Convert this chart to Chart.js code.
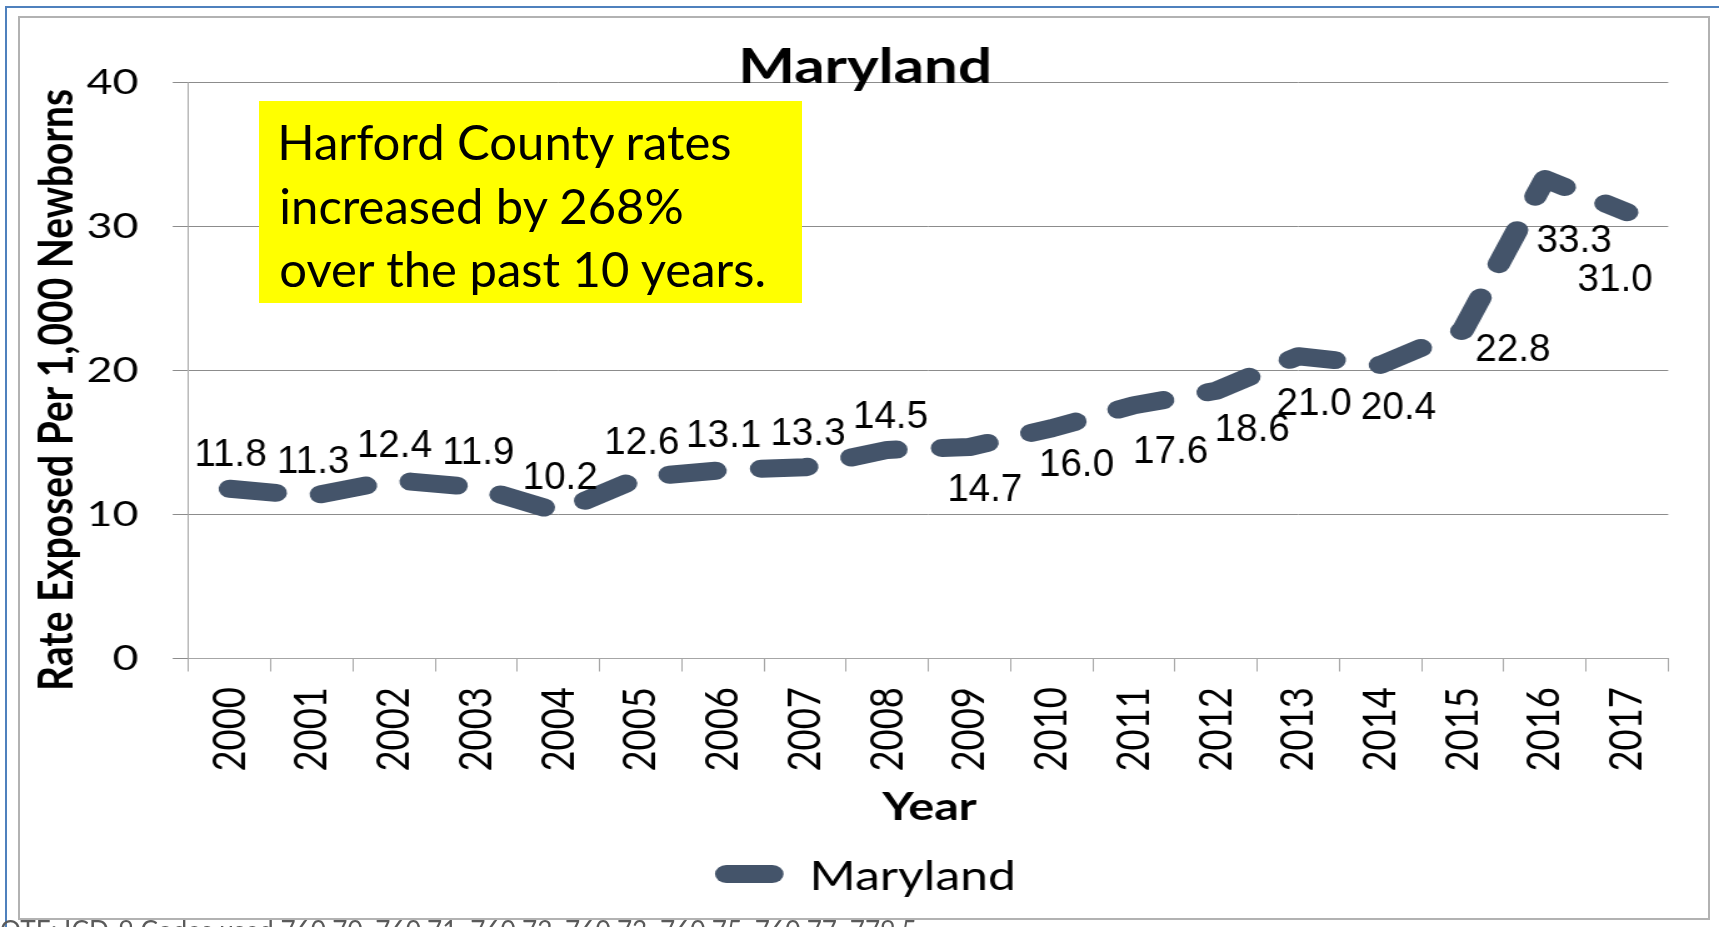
<!DOCTYPE html>
<html>
<head>
<meta charset="utf-8">
<script src="https://cdn.jsdelivr.net/npm/chart.js@4.4.1/dist/chart.umd.min.js"></script>
<style>
html,body{margin:0;padding:0;background:#fff;}
body{width:1719px;height:927px;position:relative;overflow:hidden;}
#stretch{position:absolute;left:0;top:0;width:1375px;height:927px;transform-origin:0 0;}
#c{display:block;}
.frameBlue{position:absolute;left:5px;top:6px;width:1800px;height:1000px;border-left:2px solid #4F81BD;border-top:2px solid #4F81BD;}
.frameGray{position:absolute;left:18px;top:16px;width:1688px;height:900px;border:2px solid #B2B2B2;}
#box{position:absolute;left:259px;top:101px;width:543px;height:202px;background:#FFFF00;}
.txt{position:absolute;white-space:nowrap;margin:0;padding:0;}
</style>
</head>
<body>
<div class="frameBlue"></div>
<div class="frameGray"></div>
<div id="stretch"><canvas id="c" width="1375" height="927"></canvas></div>
<div id="box"></div>
<script>
// ---------------- data ----------------
const years = ['2000','2001','2002','2003','2004','2005','2006','2007','2008','2009',
               '2010','2011','2012','2013','2014','2015','2016','2017'];
const rates = [11.8, 11.3, 12.4, 11.9, 10.2, 12.6, 13.1, 13.3, 14.5, 14.7,
               16.0, 17.6, 18.6, 21.0, 20.4, 22.8, 33.3, 31.0];
const yTickValues = [0, 10, 20, 30, 40];
const seriesName = 'Maryland';
const chartTitle = 'Maryland';
const xAxisTitle = 'Year';
const yAxisTitle = 'Rate Exposed Per 1,000 Newborns';
const calloutLines = ['Harford County rates', 'increased by 268%', 'over the past 10 years.'];
const noteText = 'OTE:  ICD-9 Codes used 760.70, 760.71, 760.72, 760.73, 760.75, 760.77, 779.5';

// placement of each value label relative to its point (display px)
const labelOffsets = [[1,-36.5],[1.4,-36.8],[1,-36.8],[2.2,-37],[1.8,-36.3],[1.4,-36.9],
  [1,-37],[3,-35.8],[3.4,-36.2],[15.5,39.7],[25,34.3],[37,44],[36.3,36.7],[15.5,45],
  [18.2,40.5],[50,16.4],[29,59.3],[-12.2,64.6]];

// ---------------- layout helpers ----------------
const W = 1719, CW = 1375, S = W / CW;
document.getElementById('stretch').style.transform = 'scaleX(' + S + ')';
const mctx = document.createElement('canvas').getContext('2d');
function glyphFit(text, weight, family, target) {
  mctx.font = weight + ' 100px ' + family;
  const m = mctx.measureText(text);
  return 100 * target / (m.actualBoundingBoxLeft + m.actualBoundingBoxRight);
}
const LATO = 'Lato, "Open Sans", sans-serif';
const ARIAL = '"Liberation Sans", Arial, sans-serif';
const titleSize  = glyphFit(chartTitle, 'bold', LATO, 245.6 / S);
const xTitleSize = glyphFit(xAxisTitle, 'bold', LATO, 95 / S);
const yTitleSize = glyphFit(yAxisTitle, 'bold', LATO, 598);
const legendSize = glyphFit(seriesName, 'normal', LATO, 198.4 / S);
const xTickSize  = glyphFit('2000', 'normal', LATO, 82);
const yTickSize  = glyphFit('40', 'normal', LATO, 50 / S);
const valSize    = glyphFit('11.8', 'normal', ARIAL, 68.3);
const boxSize    = glyphFit(calloutLines[0], 'normal', LATO, 449.5);
const noteSize   = glyphFit(noteText, 'normal', LATO, 921);

function drawGlyphCentered(ctx, text, cx, baseline) {
  const m = ctx.measureText(text);
  ctx.textAlign = 'left';
  ctx.textBaseline = 'alphabetic';
  ctx.fillText(text, cx - (m.actualBoundingBoxRight - m.actualBoundingBoxLeft) / 2, baseline);
}
function drawGlyphLeft(ctx, text, left, baseline) {
  const m = ctx.measureText(text);
  ctx.textAlign = 'left';
  ctx.textBaseline = 'alphabetic';
  ctx.fillText(text, left + m.actualBoundingBoxLeft, baseline);
}
// HTML text placed by glyph-left and baseline
function placeHtml(text, font, glyphLeft, baseline, color) {
  mctx.font = font;
  const m = mctx.measureText(text);
  const A = m.fontBoundingBoxAscent, D = m.fontBoundingBoxDescent;
  const L = Math.ceil(A + D) + 4;
  const el = document.createElement('div');
  el.className = 'txt';
  el.textContent = text;
  el.style.font = font;
  el.style.lineHeight = L + 'px';
  el.style.color = color;
  el.style.left = (glyphLeft + m.actualBoundingBoxLeft) + 'px';
  el.style.top = (baseline - ((L - (A + D)) / 2 + A)) + 'px';
  document.body.appendChild(el);
}
const boxFont = boxSize + 'px ' + LATO;
const boxBaselines = [160, 223.5, 287];
calloutLines.forEach((t, i) => placeHtml(t, boxFont, 281.3, boxBaselines[i], '#000'));
placeHtml(noteText, noteSize + 'px ' + LATO, 1, 921.7 + 0.7165 * noteSize, '#5A5A5A');

// ---------------- plugins ----------------
const valueLabels = {
  id: 'valueLabels',
  afterDatasetsDraw(chart) {
    const ctx = chart.ctx;
    const meta = chart.getDatasetMeta(0);
    ctx.save();
    ctx.fillStyle = '#000';
    ctx.font = valSize + 'px ' + ARIAL;
    meta.data.forEach((pt, i) => {
      const off = labelOffsets[i];
      const cx = pt.x + off[0] / S, cy = pt.y + off[1];
      ctx.save();
      ctx.translate(cx, cy);
      ctx.scale(1 / S, 1);
      drawGlyphCentered(ctx, rates[i].toFixed(1), 0, 0.358 * valSize);
      ctx.restore();
    });
    ctx.restore();
  }
};
const decor = {
  id: 'decor',
  afterDraw(chart) {
    const ctx = chart.ctx;
    const ds = chart.data.datasets[0];
    ctx.save();
    ctx.fillStyle = '#000';
    // chart title
    ctx.font = 'bold ' + titleSize + 'px ' + LATO;
    drawGlyphCentered(ctx, chartTitle, 865.5 / S, 83.3);
    // x axis title
    ctx.font = 'bold ' + xTitleSize + 'px ' + LATO;
    drawGlyphCentered(ctx, xAxisTitle, 929.2 / S, 820);
    // y axis title
    ctx.save();
    ctx.translate(72.7 / S, 389);
    ctx.rotate(-Math.PI / 2);
    ctx.font = 'bold ' + yTitleSize + 'px ' + LATO;
    drawGlyphCentered(ctx, yAxisTitle, 0, 0);
    ctx.restore();
    // legend
    const lw = ds.borderWidth;
    ctx.strokeStyle = ds.borderColor;
    ctx.lineWidth = lw;
    ctx.lineCap = 'round';
    ctx.beginPath();
    ctx.moveTo(715 / S + lw / 2, 874);
    ctx.lineTo(783.6 / S - lw / 2, 874);
    ctx.stroke();
    ctx.font = legendSize + 'px ' + LATO;
    drawGlyphLeft(ctx, ds.label, 813.3 / S, 890);
    ctx.restore();
  }
};

// ---------------- chart ----------------
const plotLeft = 188.7 / S, plotRight = 1668.2 / S, plotTop = 82.5, plotBottom = 658.8;
const xAxisHeight = 140;
new Chart(document.getElementById('c'), {
  type: 'line',
  data: {
    labels: years,
    datasets: [{
      label: seriesName,
      data: rates,
      borderColor: '#44546A',
      backgroundColor: '#44546A',
      borderWidth: 18,
      borderDash: [37, 36.5],
      borderCapStyle: 'round',
      borderJoinStyle: 'round',
      pointRadius: 0,
      pointHoverRadius: 0,
      tension: 0,
      fill: false
    }]
  },
  options: {
    responsive: false,
    animation: false,
    devicePixelRatio: 1,
    events: [],
    layout: {
      autoPadding: false,
      padding: { left: 0, top: plotTop, right: CW - plotRight, bottom: 927 - plotBottom - xAxisHeight }
    },
    plugins: { legend: { display: false }, title: { display: false }, tooltip: { enabled: false } },
    scales: {
      x: {
        type: 'category',
        offset: true,
        grid: { display: true, offset: true, drawOnChartArea: false, drawTicks: true, tickLength: 12.7, color: '#A6A6A6', lineWidth: 1 },
        border: { display: true, color: '#A6A6A6', width: 1 },
        ticks: { autoSkip: false, maxRotation: 90, minRotation: 90, padding: 15.5, color: '#000',
                 font: { family: LATO, size: xTickSize } },
        afterFit(s) { s.height = xAxisHeight; s.paddingLeft = s.paddingRight = s.paddingTop = s.paddingBottom = 0; }
      },
      y: {
        type: 'linear',
        min: yTickValues[0],
        max: yTickValues[yTickValues.length - 1],
        afterBuildTicks(s) { s.ticks = yTickValues.map(v => ({ value: v })); },
        grid: { color: '#8C8C8C', lineWidth: 1, tickLength: 12.8, drawTicks: true },
        border: { display: true, color: '#A6A6A6', width: 1 },
        ticks: { padding: 27.5, color: '#000', font: { family: LATO, size: yTickSize } },
        afterFit(s) { s.width = plotLeft; s.paddingLeft = s.paddingRight = s.paddingTop = s.paddingBottom = 0; }
      }
    }
  },
  plugins: [valueLabels, decor]
});
</script>
</body>
</html>
